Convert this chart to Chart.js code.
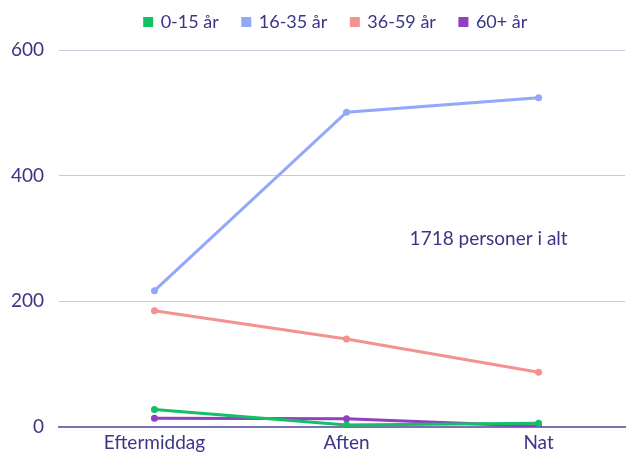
<!DOCTYPE html>
<html>
<head>
<meta charset="utf-8">
<script src="https://cdn.jsdelivr.net/npm/chart.js@4.4.1/dist/chart.umd.min.js"></script>
<style>
  html, body { margin: 0; padding: 0; background: #fff; overflow: hidden; }
  #wrap { width: 629px; height: 455px; }
</style>
</head>
<body>
<div id="wrap"><canvas id="myGraph"></canvas></div>
<script>
// data
const categories = ["Eftermiddag", "Aften", "Nat"];
const seriesNames = ["0-15 år", "16-35 år", "36-59 år", "60+ år"];
const age0to15 = [28, 3, 6];
const age16to35 = [217, 501, 524];
const age36to59 = [185, 140, 87];
const age60plus = [14, 13, 1];
const yTicks = [0, 200, 400, 600];
const totalNote = "1718 personer i alt";

const textColor = "#3b3587";
const colors = ["#14c066", "#93a7fb", "#f4928f", "#9140c0"];

function toPoints(values) {
  return values.map((v, i) => ({ x: i, y: v }));
}

const allSeries = [age0to15, age16to35, age36to59, age60plus];

// writes the total inside the plot
const notePlugin = {
  id: "note",
  afterDatasetsDraw(chart) {
    const ctx = chart.ctx;
    const x = chart.scales.x.getPixelForValue(1.74);
    const y = chart.scales.y.getPixelForValue(300);
    ctx.save();
    ctx.font = "19px Lato";
    ctx.fillStyle = textColor;
    ctx.textAlign = "center";
    ctx.textBaseline = "middle";
    ctx.fillText(totalNote, x, y);
    ctx.restore();
  },
};

// legend: fixed height, nudged up and centred over the plot
const legendPlace = {
  id: "legendPlace",
  beforeInit(chart) {
    const fit = chart.legend.fit;
    chart.legend.fit = function () {
      fit.bind(chart.legend)();
      this.height = 50;
    };
  },
  afterLayout(chart) {
    const lg = chart.legend;
    lg.top -= 11;
    lg.bottom -= 11;
    lg.left += 44;
  },
};

Chart.defaults.font.family = "Lato";
Chart.defaults.font.size = 19;
Chart.defaults.color = textColor;

new Chart(document.getElementById("myGraph"), {
  type: "line",
  data: {
    datasets: allSeries.map((values, i) => ({
      label: seriesNames[i],
      data: toPoints(values),
      borderColor: colors[i],
      backgroundColor: colors[i],
      borderWidth: 3,
      pointRadius: 3.5,
      pointBorderWidth: 0,
      tension: 0,
    })),
  },
  options: {
    responsive: true,
    maintainAspectRatio: false,
    animation: false,
    layout: { padding: { top: 0, right: 1, left: 0, bottom: 0 } },
    plugins: {
      tooltip: { enabled: false },
      legend: {
        position: "top",
        labels: {
          boxWidth: 7,
          boxHeight: 7,
          padding: 24,
          color: textColor,
          font: { size: 18 },
        },
      },
    },
    scales: {
      x: {
        type: "linear",
        min: -0.497,
        max: 2.45,
        afterBuildTicks: (s) => {
          s.ticks = categories.map((c, i) => ({ value: i }));
        },
        afterFit: (s) => { s.height = 28; },
        ticks: {
          callback: (v) => categories[v],
          padding: 4,
          color: textColor,
          maxRotation: 0,
        },
        grid: { display: false, drawTicks: false },
        border: { display: true, color: "#7a72b2", width: 2 },
      },
      y: {
        min: 0,
        max: 600,
        afterBuildTicks: (s) => {
          s.ticks = yTicks.map((v) => ({ value: v }));
        },
        afterFit: (s) => { s.width = 59; },
        ticks: { padding: 15, color: textColor },
        grid: {
          color: "#cbc6e5",
          lineWidth: 1,
          drawTicks: false,
        },
        border: { display: false },
      },
    },
  },
  plugins: [notePlugin, legendPlace],
});
</script>
</body>
</html>
